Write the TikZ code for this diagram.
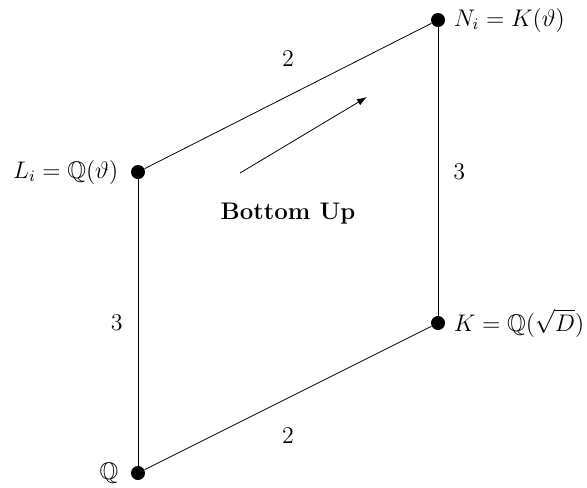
\documentclass[12pt,tikz,border=0pt]{standalone}
\usepackage{amsmath,amssymb}
\usepackage{tikz}
\usetikzlibrary{arrows.meta, positioning}

\begin{document}
\begin{tikzpicture}[
    x=0.5pt, y=-0.5pt,
    fieldpt/.style={circle, fill=black, inner sep=0pt, minimum size=7pt},
    deg/.style={font=\normalsize},
    arr/.style={-{Latex[length=5pt,width=3.5pt]}},
]
\useasboundingbox (0,0) rectangle (587,487);

\node[fieldpt, label={[xshift=-2pt]left:$\mathbb{Q}$}] (Q) at (138,473) {};
\node[fieldpt, label={[xshift=-2pt]left:$L_i = \mathbb{Q}(\vartheta)$}] (L) at (138,172) {};
\node[fieldpt, label={right:$N_i = K(\vartheta)$}] (N) at (438,20) {};
\node[fieldpt, label={right:$K = \mathbb{Q}(\sqrt{D})$}] (K) at (438,323) {};

\draw (Q) -- node[deg, left=3.5pt] {3} (L);
\draw (L) -- node[deg, above=10.5pt] {2} (N);
\draw (K) -- node[deg, right=3.5pt] {3} (N);
\draw (Q) -- node[deg, below=10.5pt] {2} (K);

\coordinate (arrS) at (240,173);
\coordinate (arrE) at (367,97);
\draw[arr] (arrS) -- (arrE);
\node[font=\bfseries] (dir) at (288,214) {Bottom Up};
\end{tikzpicture}
\end{document}
